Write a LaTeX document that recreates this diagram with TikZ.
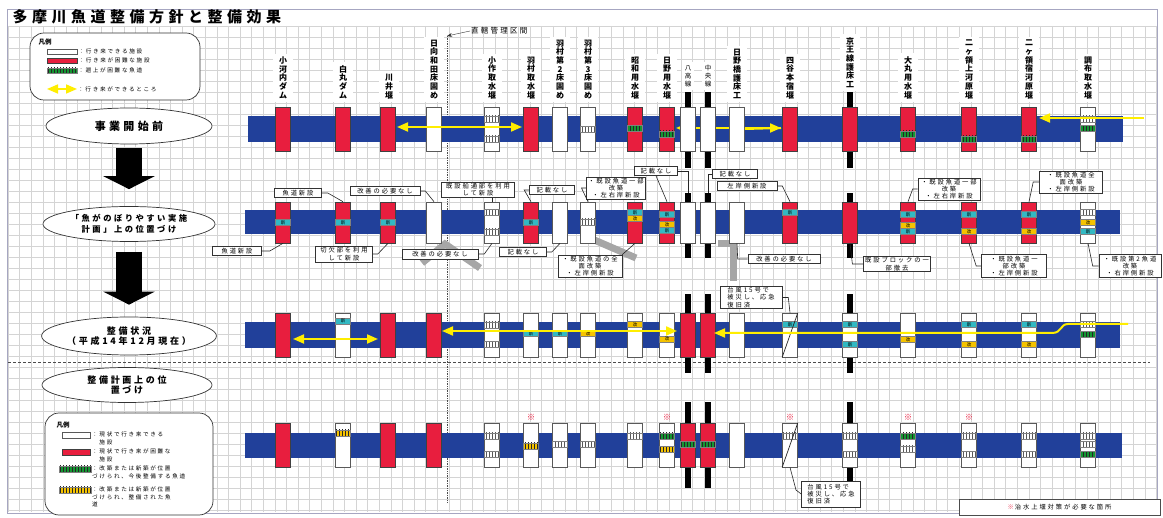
\documentclass[tikz,border=0pt]{standalone}
\usepackage{fontspec}
\setmainfont{Noto Sans CJK JP}
\newfontfamily\jpwide{Noto Sans CJK JP}[LetterSpace=30]
\usetikzlibrary{arrows.meta, positioning, shapes.geometric, patterns}
\definecolor{riverblue}{RGB}{33,64,154}
\definecolor{fishred}{RGB}{232,30,62}
\definecolor{tagcyan}{RGB}{50,185,195}
\definecolor{tagyellow}{RGB}{245,195,0}
\definecolor{tagreen}{RGB}{20,150,50}
\definecolor{fishyellow}{RGB}{255,238,0}

\begin{document}
\begin{tikzpicture}[x=1pt, y=-1pt,
  gridline/.style={black!17, line width=0.4pt},
  wbox/.style={draw=black!65, fill=white, line width=0.7pt, minimum width=15pt, inner sep=0pt},
  rbox/.style={draw=black!75, fill=fishred, line width=0.6pt, minimum width=15pt, inner sep=0pt},
  rail/.style={fill=black, minimum width=6pt, inner sep=0pt},
  chip/.style={draw=black!50, line width=0.3pt, minimum width=15pt, minimum height=6pt, inner sep=0pt, font=\rmfamily\fontsize{4.5}{5}\selectfont},
  newtag/.style={chip, fill=tagcyan},
  kaitag/.style={chip, fill=tagyellow},
  grayh/.style={chip, preaction={fill=white}, pattern=vertical lines, pattern color=black!65},
  greenh/.style={chip, preaction={fill=tagreen}, pattern=vertical lines, pattern color=black!85},
  yellowh/.style={chip, preaction={fill=tagyellow}, pattern=vertical lines, pattern color=black!85},
  header/.style={anchor=south, fill=white, align=center, inner xsep=6pt, inner ysep=3pt, font=\rmfamily\bfseries\fontsize{8}{8.7}\selectfont},
  callout/.style={draw=black!80, fill=white, line width=0.6pt, inner xsep=1.5pt, inner ysep=1pt, align=center, font=\jpwide\fontsize{6.3}{7.2}\selectfont},
  lead/.style={black!85, line width=0.6pt},
  stage/.style={ellipse, draw=black!80, fill=white, line width=0.7pt, inner sep=0pt, align=center, font=\jpwide\bfseries\fontsize{9}{10.5}\selectfont},
  bigarrow/.style={line width=26pt, -{Triangle[width=51pt, length=13pt]}},
  yline/.style={draw=fishyellow, line width=2pt},
  yarrow/.style={yline, {Triangle[width=9pt, length=11pt]}-{Triangle[width=9pt, length=11pt]}},
  yarrowend/.style={yline, -{Triangle[width=9pt, length=11pt]}},
  legendbox/.style={draw=black!80, fill=white, rounded corners=14pt, line width=0.7pt},
  greystrip/.style={black!35, line width=7pt},
  legtext/.style={anchor=west, inner sep=1pt, align=left, font=\jpwide\fontsize{5.6}{7.5}\selectfont}
]
\useasboundingbox (0,0) rectangle (1163,518);
\fill[white] (0,0) rectangle (1163,518);
% sheet grid
\foreach \gx in {8,19.6,...,1157} \draw[gridline] (\gx,26) -- (\gx,512);
\foreach \gy in {26,37,...,512} \draw[gridline] (8,\gy) -- (1157,\gy);
\draw[blue!30!black!35, line width=0.8pt] (7,9) rectangle (1157,513);
\node[anchor=west, font=\jpwide\bfseries\fontsize{15}{16}\selectfont] (title) at (9,16.5) {多摩川魚道整備方針と整備効果};

% column headers
\foreach \x/\lab [count=\i] in {283/{小\\河\\内\\ダ\\ム}, 343/{白\\丸\\ダ\\ム}, 389/{川\\井\\堰}, 434/{日\\向\\和\\田\\床\\固\\め}, 492/{小\\作\\取\\水\\堰}, 531/{羽\\村\\取\\水\\堰}, 560/{羽\\村\\第\\2\\床\\固\\め}, 588/{羽\\村\\第\\3\\床\\固\\め}, 635/{昭\\和\\用\\水\\堰}, 667/{日\\野\\用\\水\\堰}, 737/{日\\野\\橋\\護\\床\\工}, 790/{四\\谷\\本\\宿\\堰}, 908/{大\\丸\\用\\水\\堰}, 969/{二\\ヶ\\領\\上\\河\\原\\堰}, 1029/{二\\ヶ\\領\\宿\\河\\原\\堰}, 1088/{調\\布\\取\\水\\堰}} \node[header] (h\i) at (\x,102) {\lab};
\node[header, font=\rmfamily\fontsize{6.5}{8}\selectfont, inner xsep=3pt] (hhachi) at (688,90) {八\\高\\線};
\node[header, font=\rmfamily\fontsize{6.5}{8}\selectfont, inner xsep=3pt] (hchuo) at (708,90) {中\\央\\線};
\node[header] (hkeio) at (850,91) {京\\王\\線\\護\\床\\工};
\node[anchor=west, font=\jpwide\fontsize{7.5}{8}\selectfont, inner sep=1pt] (dk) at (470,31) {直轄管理区間};
\coordinate (dtop) at (447,36);
\draw[-{Stealth[length=5pt]}, black!80] (dk.west) -- (dtop);
\draw[black!70, densely dotted, line width=0.7pt] (dtop) -- (447,503);
\draw[black!70, dash pattern=on 3pt off 2pt, line width=0.6pt] (8,362) -- (1150,362);

% grey strips behind the notes
\draw[greystrip] (422,263) -- (445,244) -- (480,268);
\draw[greystrip] (592,239) -- (636,258);
\draw[greystrip] (718,244) -- (733,244) -- (733,281);

% legend top
\node[legendbox, minimum width=170pt, minimum height=67pt] (leg1) at (115,66.5) {};
\node[font=\rmfamily\bfseries\fontsize{6.5}{7}\selectfont] (leg1t) at (45,42) {凡例};
\node[wbox, minimum width=30pt, minimum height=5pt] (l1w) at (62,51.5) {};
\node[legtext] (l1wt) at (l1w.east) {：行き来できる施設};
\node[rbox, minimum width=30pt, minimum height=5pt] (l1r) at (62,60.5) {};
\node[legtext] (l1rt) at (l1r.east) {：行き来が困難な施設};
\node[greenh, minimum width=30pt, minimum height=5pt] (l1g) at (62,70.5) {};
\node[legtext] (l1gt) at (l1g.east) {：遡上が困難な魚道};
\coordinate (l1a) at (47,89); \coordinate (l1b) at (77,89);
\draw[yarrow, line width=1.6pt] (l1a) -- (l1b);
\node[legtext] (l1at) at (l1b) {：行き来ができるところ};

% stages
\node[stage, minimum width=166pt, minimum height=36pt, font=\jpwide\bfseries\fontsize{11}{12}\selectfont] (e1) at (129,126) {事業開始前};
\node[stage, minimum width=172pt, minimum height=35pt, font=\jpwide\bfseries\fontsize{8.3}{10.5}\selectfont] (e2) at (129,224) {「魚がのぼりやすい実施\\計画」上の位置づけ};
\node[stage, minimum width=172pt, minimum height=38pt] (e3) at (129,336) {整備状況\\（平成14年12月現在）};
\node[stage, minimum width=170pt, minimum height=35pt] (e4) at (127,385) {整備計画上の位\\置づけ};
\draw[bigarrow, shorten <=4pt, shorten >=17pt] (e1.south) -- (e2.north);
\draw[bigarrow, shorten <=10pt, shorten >=12pt] (e2.south) -- (e3.north);

% legend bottom
\node[legendbox, minimum width=168pt, minimum height=102pt] (leg2) at (129,464) {};
\node[font=\rmfamily\bfseries\fontsize{6.5}{7}\selectfont] (leg2t) at (63,425) {凡例};
\node[wbox, minimum width=28pt, minimum height=6pt] (l2w) at (76,435) {};
\node[legtext, anchor=north west] (l2wt) at (91,431) {：現状で行き来できる\\　施設};
\node[rbox, minimum width=28pt, minimum height=6pt] (l2r) at (76,452) {};
\node[legtext, anchor=north west] (l2rt) at (91,448) {：現状で行き来が困難な\\　施設};
\node[greenh, minimum width=32pt, minimum height=6pt] (l2g) at (75,469) {};
\node[legtext, anchor=north west] (l2gt) at (91,465) {：改築または新築が位置\\づけられ、今後整備する魚道};
\node[yellowh, minimum width=32pt, minimum height=6pt] (l2y) at (75,490) {};
\node[legtext, anchor=north west] (l2yt) at (91,486) {：改築または新築が位置\\づけられ、整備された魚\\道};

% row 1: before the project
\fill[riverblue] (248,116) rectangle (1123,142);
\foreach \x/\n in {688/11,708/12,850/15} \node[rail, minimum height=76pt] (ar\n) at (\x,130) {};
\coordinate (ya2) at (676,128); \coordinate (yb2) at (781,128);
\draw[yarrow] (ya2) -- (yb2);
\foreach \x/\s [count=\i] in {283/rbox,343/rbox,388/rbox,434/wbox,492/wbox,531/rbox,560/wbox,588/wbox,635/rbox,667/rbox,688/wbox,708/wbox,737/wbox,790/rbox,850/rbox,908/rbox,969/rbox,1029/rbox,1088/wbox} \node[\s, minimum height=44pt] (a\i) at (\x,129) {};
\foreach \x/\y [count=\i] in {492/119,492/139,588/129.5,1088/119} \node[grayh] (ag\i) at (\x,\y) {};
\foreach \x/\y [count=\i] in {635/128.5,667/134,908/134,969/139,1029/139,1088/128.5} \node[greenh] (agr\i) at (\x,\y) {};
\coordinate (ya1) at (397,127); \coordinate (yb1) at (522,127);
\coordinate (ya3) at (1144,118); \coordinate (yb3) at (1039,118);
\draw[yarrow] (ya1) -- (yb1);
\draw[yline] (a13.east) -- (yb2);
\draw[yarrowend] (ya3) -- (yb3);

% row 2: plan
\fill[riverblue] (245,210) rectangle (1120,234);
\foreach \x/\n in {688/11,708/12,850/15} \node[rail, minimum height=65pt] (br\n) at (\x,225.5) {};
\foreach \x/\s [count=\i] in {283/rbox,343/rbox,388/rbox,434/wbox,492/wbox,531/rbox,560/wbox,588/wbox,635/rbox,667/rbox,688/wbox,708/wbox,737/wbox,790/rbox,850/rbox,908/rbox,969/rbox,1029/rbox,1088/wbox} \node[\s, minimum height=41pt] (b\i) at (\x,222.5) {};
\foreach \x/\y [count=\i] in {283/222.5,343/222.5,388/222.5,531/222.5,635/212.5,667/214.5,667/230.5,790/212.5,908/214.5,908/231.5,969/214.5,1029/214.5,1088/231.5} \node[newtag] (bn\i) at (\x,\y) {新};
\foreach \x/\y [count=\i] in {635/218.5,667/224.5,908/225.5,969/231.5,1029/231.5,1088/222.5} \node[kaitag] (bk\i) at (\x,\y) {改};
\foreach \x/\y [count=\i] in {492/212.5,492/232,588/222,1088/212.5} \node[grayh] (bg\i) at (\x,\y) {};

\node[callout, minimum width=47pt, minimum height=9pt] (k1) at (298,193) {魚道新設};
\draw[lead] (k1.east) -- ++(6,0) -- (b2.north);
\node[callout, minimum width=49pt, minimum height=9pt] (k2) at (237,251) {魚道新設};
\draw[lead] (k2.east) -- ++(8,0) -- (b1.south);
\node[callout, minimum width=57pt, minimum height=16pt] (k3) at (344,254) {切欠部を利用\\して新設};
\draw[lead] (k3.east) -- ++(5,0) -- (b3.south);
\node[callout, minimum width=70pt, minimum height=9pt] (k4) at (385,191) {改善の必要なし};
\draw[lead] (k4.east) -- ++(5,0) -- (b4.north);
\node[callout, minimum width=76pt, minimum height=10pt] (k5) at (440,254) {改善の必要なし};
\draw[lead] (k5.east) -- ++(6,0) -- (b5.south);
\node[callout, minimum width=73pt, minimum height=15pt] (k6) at (478,190) {既設船通部を利用\\して新設};
\draw[lead] (k6.south -| b5.north) -- (b5.north);
\node[callout, minimum width=45pt, minimum height=9pt] (k7) at (552,190) {記載なし};
\draw[lead] (k7.west) -- ++(-5,0) -- (b6.north);
\node[callout, minimum width=47pt, minimum height=9pt] (k8) at (523,252) {記載なし};
\draw[lead] (k8.east) -- ++(5,0) -- (b7.south);
\node[callout, minimum width=58pt, minimum height=21pt] (k9) at (616,188) {・既設魚道一部\\改築\\・左右岸新設};
\draw[lead] (k9.west) -- ++(-5,0) -- (b8.north);
\node[callout, minimum width=43pt, minimum height=9pt] (k10) at (656,171) {記載なし};
\draw[lead] (k10.south) -- (b10.north);
\draw[lead] (k10.east) -| (br11.north);
\node[callout, minimum width=45pt, minimum height=9pt] (k11) at (735,174) {記載なし};
\draw[lead] (k11.west) -| (br12.north);
\node[callout, minimum width=60pt, minimum height=9pt] (k12) at (747,186) {左岸側新設};
\draw[lead] (k12.east) -- ++(5,0) -- (b14.north);
\node[callout, minimum width=64pt, minimum height=22pt] (k13) at (590,266) {・既設魚道の全\\面改築\\・左岸側新設};
\draw[lead] (k13.north east) -- (b9.south);
\node[callout, minimum width=72pt, minimum height=9pt] (k14) at (784,259) {改善の必要なし};
\draw[lead] (k14.west) -- ++(-10,0) -- (b13.south);
\node[callout, minimum width=61pt, minimum height=15pt] (k15) at (897,264) {既設ブロックの一\\部撤去};
\draw[lead] (k15.west) -- ++(-11,0) -- (b15.south);
\node[callout, minimum width=62pt, minimum height=22pt] (k16) at (949,189) {・既設魚道一部\\改築\\・左右岸新設};
\draw[lead] (k16.west) -- ++(-5,0) -- (b16.north);
\node[callout, minimum width=65pt, minimum height=23pt] (k17) at (1014,266) {・既設魚道一\\部改築\\・左岸側新設};
\draw[lead] (k17.west) -- ++(-5,0) -- (b17.south);
\node[callout, minimum width=63pt, minimum height=21pt] (k18) at (1071,182) {・既設魚道全\\面改築\\・左岸側新設};
\draw[lead] (k18.west) -- ++(-6,0) -- (b18.north);
\node[callout, minimum width=62pt, minimum height=23pt] (k19) at (1130,266) {・既設第2魚道\\改築\\・右岸側新設};
\draw[lead] (k19.west) -- ++(-6,0) -- (b19.south);

% row 3: state in 2002
\fill[riverblue] (245,322) rectangle (1120,348);
\foreach \x/\n in {688/11,708/12,850/15} \node[rail, minimum height=79pt] (cr\n) at (\x,333.5) {};
\foreach \x/\s [count=\i] in {283/rbox,343/wbox,388/rbox,434/rbox,492/wbox,531/wbox,560/wbox,588/wbox,635/wbox,667/wbox,688/rbox,708/rbox,737/wbox,790/wbox,850/wbox,908/wbox,969/wbox,1029/wbox,1088/wbox} \node[\s, minimum height=44pt] (c\i) at (\x,335) {};
\foreach \x/\y [count=\i] in {343/321,531/333.5,560/333.5,790/324.5,850/324.5,850/344.5,969/324.5,1029/324.5} \node[newtag] (cn\i) at (\x,\y) {新};
\foreach \x/\y [count=\i] in {588/333.5,635/324.5,667/339,908/339.5,969/344.5,1029/344.5} \node[kaitag] (ck\i) at (\x,\y) {改};
\foreach \x/\y [count=\i] in {492/325,492/344.5,1088/324.5} \node[grayh] (cg\i) at (\x,\y) {};
\node[greenh] (cgr1) at (1088,334.5) {};
\draw[black!85, line width=0.7pt] (c14.south west) -- (c14.north east);
\coordinate (yc1) at (293,339); \coordinate (yd1) at (378,339);
\coordinate (yc2) at (442,331); \coordinate (yd2) at (677,331);
\coordinate (yc3) at (1128,324); \coordinate (yd3) at (714,333);
\draw[yarrow] (yc1) -- (yd1);
\draw[yarrow] (yc2) -- (yd2);
\draw[yarrowend] (yc3) -- (1068,324) .. controls (1060,324) and (1062,333) .. (1052,333) -- (yd3);
\node[callout, minimum width=62pt, minimum height=21pt, align=left] (k20) at (751,297.5) {台風15号で\\被災し、応急\\復旧済};
\draw[lead] (k20.east) -- ++(6,0) -- (c14.north);

% row 4: position in the plan
\fill[riverblue] (245,433) rectangle (1122,458);
\foreach \x/\n in {688/11,708/12,850/15} \node[rail, minimum height=86pt] (dr\n) at (\x,445) {};
\foreach \x/\s [count=\i] in {283/rbox,343/wbox,388/rbox,434/rbox,492/wbox,531/wbox,560/wbox,588/wbox,635/wbox,667/wbox,688/rbox,708/rbox,737/wbox,790/wbox,850/wbox,908/wbox,969/wbox,1029/wbox,1088/wbox} \node[\s, minimum height=44pt] (d\i) at (\x,445) {};
\foreach \x/\y [count=\i] in {492/436,492/454.5,560/444.5,588/444.5,635/436,790/436,850/436,850/454.5,908/449,969/436,969/454.5,1029/436,1029/454.5,1088/436,1088/444.5} \node[grayh] (dg\i) at (\x,\y) {};
\foreach \x/\y [count=\i] in {667/436,688/444.5,708/444.5,908/436,1088/454.5} \node[greenh] (dgr\i) at (\x,\y) {};
\foreach \x/\y [count=\i] in {343/433,531/446,667/449.5} \node[yellowh] (dy\i) at (\x,\y) {};
\draw[black!85, line width=0.7pt] (d14.south west) -- (d14.north east);
\foreach \x [count=\i] in {531,667,790,908,969} \node[text=fishred, font=\rmfamily\bfseries\fontsize{8.5}{8.5}\selectfont, inner sep=0pt] (ast\i) at (\x,417) {※};
\node[callout, minimum width=59pt, minimum height=26pt, align=left] (k21) at (831,494) {台風15号で\\被災し、応急\\復旧済};
\draw[lead] (d14.south) -- (796,490) -- (k21.west);
\node[draw=black!70, fill=white, line width=0.6pt, minimum width=201pt, minimum height=16pt, font=\jpwide\fontsize{6.3}{7}\selectfont] (note) at (1059.5,507) {{\color{fishred}\bfseries ※}\,治水上堰対策が必要な箇所};
\end{tikzpicture}
\end{document}
